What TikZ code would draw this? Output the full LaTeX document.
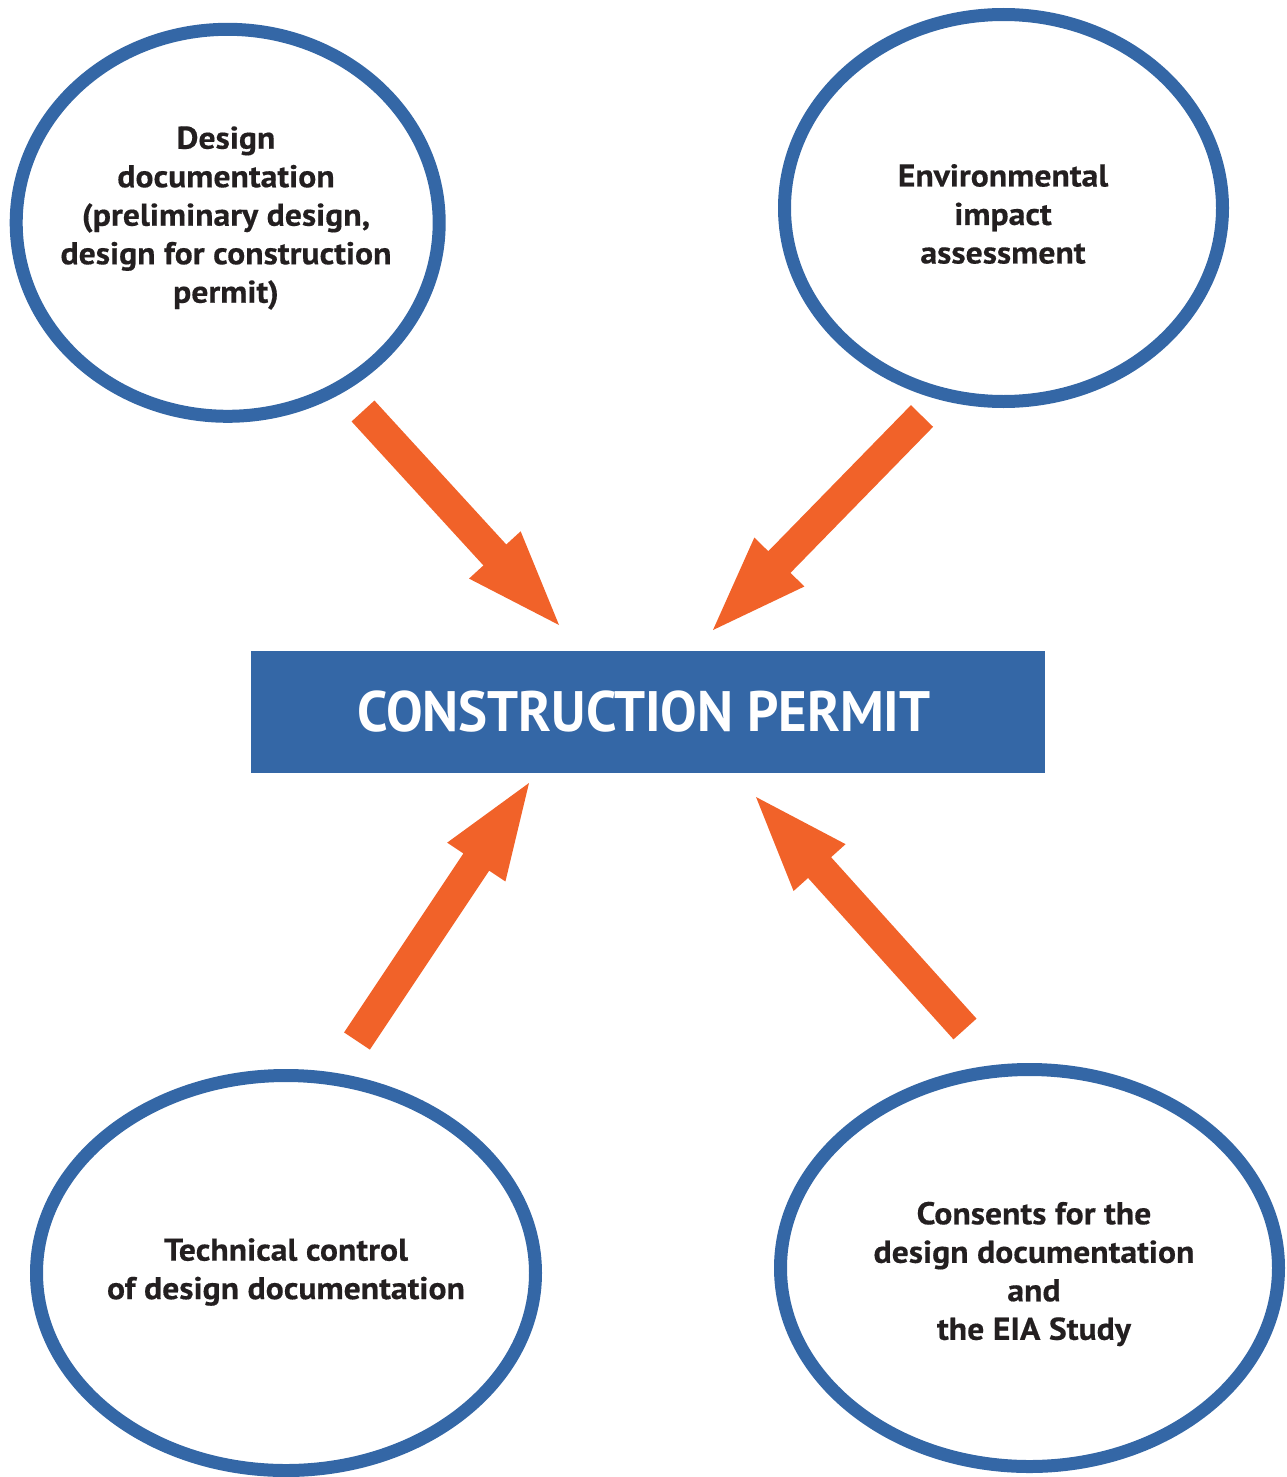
\documentclass[tikz,border=0pt]{standalone}
\usepackage{fontspec}
\setmainfont{PT Sans}
\newfontfamily\ovalfont{PT Sans}[FakeStretch=1.07,FakeBold=0.4]
\newfontfamily\titlefont{PT Sans}[FakeStretch=0.96]
\usetikzlibrary{shapes.geometric,calc}
\definecolor{eblue}{RGB}{52,103,166}
\definecolor{aorange}{RGB}{241,98,41}
\definecolor{txt}{RGB}{35,31,32}
\tikzset{
  oval/.style={ellipse, draw=eblue, line width=13pt, inner sep=0pt},
  ovaltext/.style={align=center, font=\ovalfont\bfseries\fontsize{31.5}{38.5}\selectfont, text=txt, inner sep=0pt},
  permit/.style={fill=eblue, text=white, inner sep=0pt, minimum width=794pt, minimum height=122pt,
                 font=\titlefont\bfseries\fontsize{57}{60}\selectfont},
}
\newcommand\fatarrow[2]{%
  \coordinate (#1-h) at ($(#2)!95pt!(#1)$);
  \fill[aorange] ($(#1)!15.5pt!90:(#2)$) -- ($(#1-h)!15.5pt!90:(#2)$) -- ($(#1-h)!35pt!90:(#2)$)
     -- (#2) -- ($(#1-h)!35pt!-90:(#2)$) -- ($(#1-h)!15.5pt!-90:(#2)$) -- ($(#1)!15.5pt!-90:(#2)$) -- cycle;
}
\begin{document}
\begin{tikzpicture}[x=1pt,y=-1pt]
\useasboundingbox (0,0) rectangle (1286,1477);
% ellipses
\node[oval, minimum width=423pt, minimum height=387pt] (e1) at (227.7,222.8) {};
\node[oval, minimum width=438pt, minimum height=387pt] (e2) at (1003.5,208) {};
\node[oval, minimum width=499pt, minimum height=395pt] (e3) at (286,1273) {};
\node[oval, minimum width=498pt, minimum height=397pt] (e4) at (1029.5,1268) {};
% texts
\node[ovaltext] (t1) at (226,218) {Design\\documentation\\(preliminary design,\\design for construction\\permit)};
\node[ovaltext] (t2) at (1003,214) {Environmental\\impact\\assessment};
\node[ovaltext] (t3) at (286,1272) {Technical control\\of design documentation};
\node[ovaltext] (t4) at (1034,1274) {Consents for the\\design documentation\\and\\the EIA Study};
% central box
\node[permit] (cp) at (648,712) {\hspace*{-8pt}CONSTRUCTION PERMIT};
% arrows
\coordinate (a1t) at (363,411); \coordinate (a1h) at (559,625);
\coordinate (a2t) at (922,416); \coordinate (a2h) at (713,630);
\coordinate (a3t) at (357,1041); \coordinate (a3h) at (529,783);
\coordinate (a4t) at (965,1029); \coordinate (a4h) at (756,797);
\fatarrow{a1t}{a1h}
\fatarrow{a2t}{a2h}
\fatarrow{a3t}{a3h}
\fatarrow{a4t}{a4h}
\end{tikzpicture}
\end{document}
